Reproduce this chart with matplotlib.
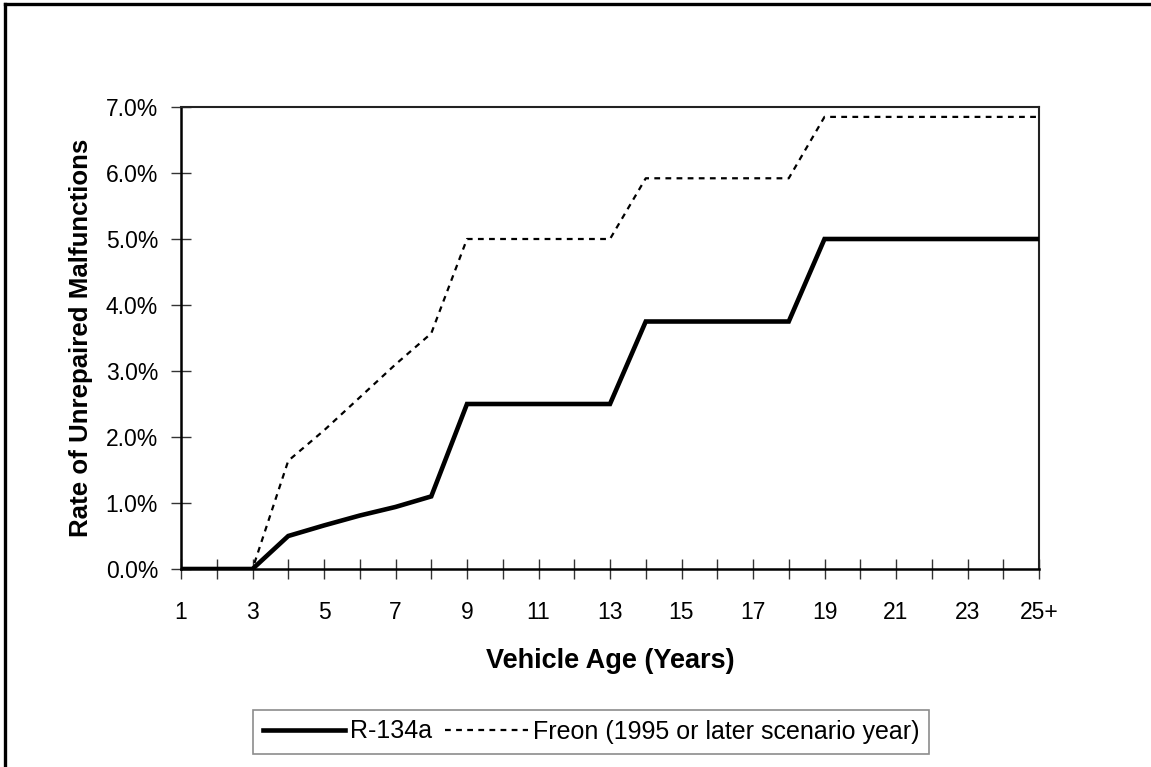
import matplotlib
matplotlib.use("Agg")
import matplotlib.pyplot as plt
from matplotlib.lines import Line2D
from matplotlib.ticker import FuncFormatter

plt.rcParams['font.family'] = ['Liberation Sans', 'DejaVu Sans']

ages = list(range(1, 26))
age_labels = ["1", "", "3", "", "5", "", "7", "", "9", "", "11", "", "13", "", "15", "", "17", "",
              "19", "", "21", "", "23", "", "25+"]
r134a = [0.0, 0.0, 0.0, 0.50, 0.66, 0.81, 0.94, 1.10, 2.50, 2.50, 2.50, 2.50, 2.50,
         3.75, 3.75, 3.75, 3.75, 3.75, 5.00, 5.00, 5.00, 5.00, 5.00, 5.00, 5.00]
freon = [0.0, 0.0, 0.0, 1.64, 2.10, 2.60, 3.10, 3.57, 5.00, 5.00, 5.00, 5.00, 5.00,
         5.92, 5.92, 5.92, 5.92, 5.92, 6.85, 6.85, 6.85, 6.85, 6.85, 6.85, 6.85]
y_ticks = [0, 1, 2, 3, 4, 5, 6, 7]

W, H = 1151, 767
fig = plt.figure(figsize=(W / 100, H / 100), dpi=100)
ax = fig.add_axes([181 / W, 1 - 569 / H, (1039 - 181) / W, (569 - 107) / H])

ax.plot(ages, r134a, color='black', lw=3.3, solid_joinstyle='miter', label='R-134a', zorder=3)
ax.plot(ages, freon, color='black', lw=1.6, linestyle=(0, (2.6, 2.4)),
        label='Freon (1995 or later scenario year)', zorder=3)

ax.set_xlim(1, 25)
ax.set_ylim(0, 7)
ax.set_xticks(ages)
ax.set_xticklabels(age_labels)
ax.set_yticks(y_ticks)
ax.yaxis.set_major_formatter(FuncFormatter(lambda v, p: f"{v:.1f}%"))

ax.tick_params(axis='both', direction='inout', length=14, width=1.0, color='#333333',
               labelsize=16.5, labelcolor='black')
ax.tick_params(axis='x', pad=16)
ax.tick_params(axis='y', pad=9.5)

for s in ['left', 'bottom']:
    ax.spines[s].set_linewidth(1.8)
    ax.spines[s].set_color('black')
for s in ['top', 'right']:
    ax.spines[s].set_linewidth(1.5)
    ax.spines[s].set_color('#222222')

ax.set_xlabel('Vehicle Age (Years)', fontsize=19.5, fontweight='bold', labelpad=17)
ax.set_ylabel('Rate of Unrepaired Malfunctions', fontsize=18.6, fontweight='bold', labelpad=9)

leg = fig.legend(loc='center', bbox_to_anchor=(591 / W, 1 - 731.5 / H), ncol=2,
                 fontsize=18, frameon=True, fancybox=False, edgecolor='#707070',
                 handlelength=3.3, handletextpad=0.2, columnspacing=0.5,
                 borderpad=0.4, borderaxespad=0)
leg.get_frame().set_linewidth(1.2)

# outer figure border (left and top)
fig.add_artist(Line2D([4.5 / W, 4.5 / W], [0, 1 - 4 / H], transform=fig.transFigure,
                      color='black', lw=2.4, solid_capstyle='projecting'))
fig.add_artist(Line2D([4.5 / W, 1], [1 - 4 / H, 1 - 4 / H], transform=fig.transFigure,
                      color='black', lw=2.4, solid_capstyle='projecting'))

fig.savefig('out.png', dpi=100)
